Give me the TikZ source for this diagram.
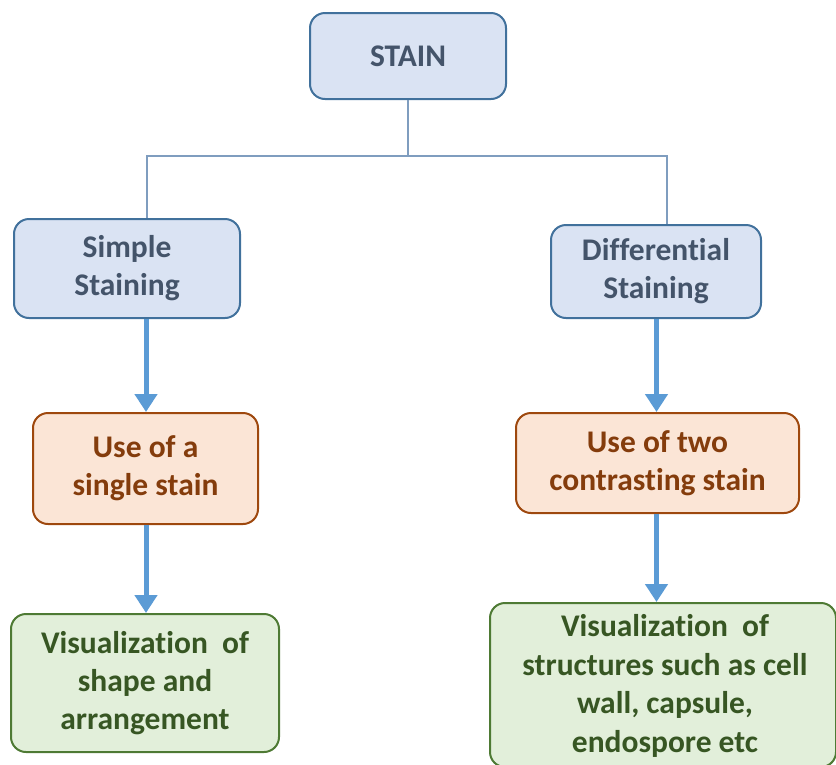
\documentclass[tikz,border=0pt]{standalone}
\usepackage{fontspec}
\setmainfont[Ligatures=NoCommon]{Carlito}
\usetikzlibrary{arrows.meta}
\definecolor{bfill}{HTML}{DAE3F3}
\definecolor{bdraw}{HTML}{41719C}
\definecolor{btext}{HTML}{44546A}
\definecolor{ofill}{HTML}{FBE5D6}
\definecolor{odraw}{HTML}{9E480E}
\definecolor{otext}{HTML}{843C0C}
\definecolor{gfill}{HTML}{E2EFDA}
\definecolor{gdraw}{HTML}{4E7A34}
\definecolor{gtext}{HTML}{375623}
\definecolor{treeline}{HTML}{7F9DBF}
\definecolor{arrowblue}{HTML}{5B9BD5}
\tikzset{
  boxfont/.style={font=\fontsize{31.5}{38}\selectfont\bfseries},
  box/.style={rounded corners=15pt, line width=2pt, inner sep=0pt, align=center, boxfont},
  bluebox/.style={box, fill=bfill, draw=bdraw, text=btext},
  orangebox/.style={box, fill=ofill, draw=odraw, text=otext},
  greenbox/.style={box, fill=gfill, draw=gdraw, text=gtext},
  tree/.style={draw=treeline, line width=1.5pt},
  flow/.style={draw=arrowblue, line width=5pt, -{Triangle[length=18pt,width=22pt]}}
}
\begin{document}
\begin{tikzpicture}[x=1pt,y=-1pt]
\useasboundingbox (0,0) rectangle (836,764);
\begin{scope}
\clip (0,0) rectangle (836,764);
\node[bluebox, minimum width=196pt, minimum height=86pt] (stain) at (408,56) {STAIN};
\node[bluebox, minimum width=226pt, minimum height=99pt] (simple) at (127,268.5) {Simple\\Staining};
\node[bluebox, minimum width=210pt, minimum height=93pt] (diff) at (656,271.5) {Differential\\Staining};
\node[orangebox, minimum width=225pt, minimum height=111pt] (single) at (145.5,468.5) {Use of a\\single stain};
\node[orangebox, minimum width=283pt, minimum height=100pt] (two) at (657.5,463) {Use of two\\contrasting stain};
\node[greenbox, minimum width=268pt, minimum height=138pt] (visl) at (145,683) {Visualization\ \ of\\shape and\\arrangement};
\node[greenbox, minimum width=346pt, minimum height=164pt, anchor=north west] (visr) at (489,602) {};
\node[font=\fontsize{31.5}{38.5}\selectfont\bfseries, text=gtext, align=center, inner sep=0pt] (visrtext) at (665,686) {Visualization\ \ of\\structures such as cell\\wall, capsule,\\endospore etc};
\end{scope}
\coordinate (jn) at (408,156);
\coordinate (sx) at (146,0);
\coordinate (dx) at (656.5,0);
\draw[tree] (stain.south) -- (jn);
\draw[tree] (simple.north -| 147,0) |- (jn) -| (diff.north -| 667,0);
\draw[flow] (simple.south -| sx) -- (single.north -| sx);
\draw[flow] (single.south -| sx) -- (visl.north -| sx);
\draw[flow] (diff.south -| dx) -- (two.north -| dx);
\draw[flow] (two.south -| dx) -- (visr.north -| dx);
\end{tikzpicture}
\end{document}
